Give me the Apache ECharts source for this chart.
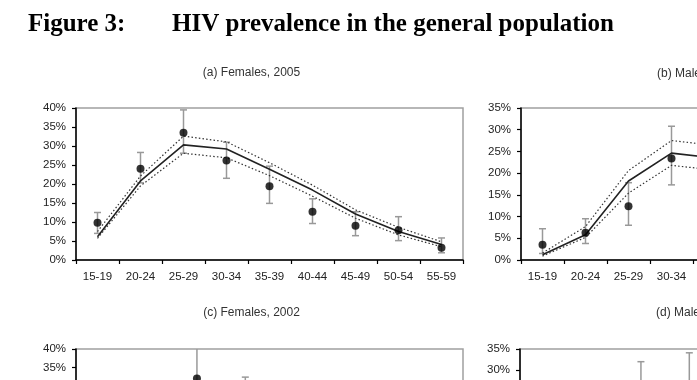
<!DOCTYPE html>
<html>
<head>
<meta charset="utf-8">
<style>
  html, body { margin: 0; padding: 0; background: #fff; overflow: hidden; width: 697px; height: 380px; }
  #chart-container { width: 940px; height: 520px; }
</style>
<script src="https://cdn.jsdelivr.net/npm/echarts@6/dist/echarts.min.js"></script>
</head>
<body>
<div id="chart-container"></div>
<script>
var ages9 = ['15-19', '20-24', '25-29', '30-34', '35-39', '40-44', '45-49', '50-54', '55-59'];
var ages8 = ages9.slice(0, 8);

// (a) Females, 2005
var femObs05   = [9.8, 24.0, 33.5, 26.2, 19.4, 12.7, 9.0, 7.8, 3.2];
var femHi05    = [12.5, 28.3, 39.5, 31.0, 24.7, 16.1, 12.7, 11.4, 5.8];
var femLo05    = [7.0, 20.3, 28.1, 21.5, 14.9, 9.6, 6.4, 5.1, 1.9];
var femFit05   = [6.1, 20.8, 30.3, 29.2, 23.9, 18.4, 12.1, 7.5, 4.1];
var femFitHi05 = [7.5, 22.1, 32.6, 31.1, 25.6, 19.7, 13.2, 8.6, 4.8];
var femFitLo05 = [5.7, 19.5, 28.1, 26.9, 22.2, 16.8, 11.0, 6.6, 3.5];

// (b) Males, 2005
var maleObs05   = [3.5, 6.3, 12.4, 23.4, 22.0, 24.0, 20.0, 16.0, 12.0];
var maleHi05    = [7.2, 9.5, 17.8, 30.8, 28.0, 30.0, 27.0, 23.0, 18.0];
var maleLo05    = [1.5, 3.8, 8.0, 17.3, 16.0, 18.0, 14.0, 10.0, 7.0];
var maleFit05   = [1.2, 5.8, 18.2, 24.6, 23.5, 22.0, 19.5, 16.0, 12.5];
var maleFitHi05 = [1.6, 7.7, 20.6, 27.5, 26.4, 24.8, 22.0, 18.3, 14.5];
var maleFitLo05 = [0.9, 5.2, 15.4, 21.8, 20.7, 19.4, 17.0, 13.8, 10.5];

// (c) Females, 2002
var femObs02   = [8.5, 22.0, 32.0, 26.0, 22.0, 15.0, 11.0, 8.0];
var femHi02    = [11.5, 26.5, 41.0, 32.4, 27.0, 19.5, 15.0, 12.0];
var femLo02    = [6.0, 18.0, 24.0, 20.0, 17.0, 11.0, 7.5, 5.0];
var femFit02   = [6.5, 19.5, 28.5, 28.0, 23.5, 17.5, 12.0, 7.5];
var femFitHi02 = [7.8, 21.0, 30.5, 30.0, 25.5, 19.0, 13.2, 8.5];
var femFitLo02 = [5.5, 18.0, 26.5, 26.0, 21.5, 16.0, 10.8, 6.5];

// (d) Males, 2002
var maleObs02   = [2.5, 7.0, 21.0, 25.0, 24.0, 21.0, 17.0, 13.0];
var maleHi02    = [5.5, 10.5, 32.0, 34.1, 31.0, 28.0, 24.0, 20.0];
var maleLo02    = [1.0, 4.0, 13.0, 17.0, 17.0, 14.0, 11.0, 7.0];
var maleFit02   = [1.0, 6.0, 16.5, 22.5, 23.0, 20.5, 16.5, 12.5];
var maleFitHi02 = [1.5, 7.5, 19.0, 25.5, 26.0, 23.0, 19.0, 14.5];
var maleFitLo02 = [0.7, 4.8, 14.0, 20.0, 20.5, 18.0, 14.0, 10.5];

var panels = [
  { cats: ages9, max: 40, obs: femObs05, hi: femHi05, lo: femLo05, fit: femFit05, fitHi: femFitHi05, fitLo: femFitLo05 },
  { cats: ages9, max: 35, obs: maleObs05, hi: maleHi05, lo: maleLo05, fit: maleFit05, fitHi: maleFitHi05, fitLo: maleFitLo05 },
  { cats: ages8, max: 40, obs: femObs02, hi: femHi02, lo: femLo02, fit: femFit02, fitHi: femFitHi02, fitLo: femFitLo02 },
  { cats: ages8, max: 35, obs: maleObs02, hi: maleHi02, lo: maleLo02, fit: maleFit02, fitHi: maleFitHi02, fitLo: maleFitLo02 }
];

var grids = [
  { left: 76, top: 108, width: 387, height: 152 },
  { left: 521, top: 108, width: 387, height: 152 },
  { left: 76, top: 349, width: 387, height: 152 },
  { left: 520, top: 349, width: 387, height: 152 }
];

var labelFont = { fontFamily: 'Liberation Sans, Arial, sans-serif', fontSize: 11.5, color: '#222' };

function errorBars(params, api) {
  var cs = params.coordSys;
  var hi = api.coord([api.value(0), api.value(1)]);
  var lo = api.coord([api.value(0), api.value(2)]);
  var top = Math.max(hi[1], cs.y);
  var bot = Math.min(lo[1], cs.y + cs.height);
  var x = hi[0];
  var st = { stroke: '#999', lineWidth: 1.5 };
  var kids = [{ type: 'line', shape: { x1: x, y1: top, x2: x, y2: bot }, style: st }];
  if (hi[1] >= cs.y) kids.push({ type: 'line', shape: { x1: x - 3.5, y1: hi[1], x2: x + 3.5, y2: hi[1] }, style: st });
  if (lo[1] <= cs.y + cs.height) kids.push({ type: 'line', shape: { x1: x - 3.5, y1: lo[1], x2: x + 3.5, y2: lo[1] }, style: st });
  return { type: 'group', children: kids };
}

var xAxes = [], yAxes = [], series = [];
panels.forEach(function (p, i) {
  xAxes.push({
    type: 'category', gridIndex: i, data: p.cats, boundaryGap: true,
    axisLine: { lineStyle: { color: '#000', width: 1.5 } },
    axisTick: { show: true, length: 4, interval: 0, lineStyle: { color: '#000', width: 1.2 } },
    axisLabel: Object.assign({ margin: 11, interval: 0 }, labelFont),
    splitLine: { show: false }
  });
  yAxes.push({
    type: 'value', gridIndex: i, min: 0, max: p.max, interval: 5,
    axisLine: { show: true, lineStyle: { color: '#000', width: 1.5 } },
    axisTick: { show: true, length: 4, lineStyle: { color: '#000', width: 1.2 } },
    axisLabel: Object.assign({ margin: 10, formatter: '{value}%' }, labelFont),
    splitLine: { show: false }
  });
  series.push({
    type: 'custom', xAxisIndex: i, yAxisIndex: i, renderItem: errorBars, clip: true, z: 1,
    data: p.cats.map(function (c, k) { return [k, p.hi[k], p.lo[k]]; }),
    encode: { x: 0, y: [1, 2] }
  });
  series.push({
    type: 'line', xAxisIndex: i, yAxisIndex: i, data: p.fitHi, symbol: 'none', z: 2,
    lineStyle: { color: '#333', width: 1.2, type: [1.5, 2.2] }
  });
  series.push({
    type: 'line', xAxisIndex: i, yAxisIndex: i, data: p.fitLo, symbol: 'none', z: 2,
    lineStyle: { color: '#333', width: 1.2, type: [1.5, 2.2] }
  });
  series.push({
    type: 'line', xAxisIndex: i, yAxisIndex: i, data: p.fit, symbol: 'none', z: 3,
    lineStyle: { color: '#222', width: 1.6 }
  });
  series.push({
    type: 'scatter', xAxisIndex: i, yAxisIndex: i, data: p.obs, symbol: 'circle', symbolSize: 8, z: 4,
    itemStyle: { color: '#000' }
  });
});

var panelFont = '12px "Liberation Sans", Arial, sans-serif';
var headFont = 'bold 25px "Liberation Serif", "Times New Roman", serif';

var dom = document.getElementById('chart-container');
var myChart = echarts.init(dom, null, { renderer: 'canvas' });
var option = {
  animation: false,
  backgroundColor: '#fff',
  grid: grids.map(function (g) {
    return Object.assign({ show: true, borderColor: '#a0a0a0', borderWidth: 1.5, containLabel: false }, g);
  }),
  xAxis: xAxes,
  yAxis: yAxes,
  series: series,
  graphic: [
    { type: 'text', x: 28, y: 25, style: { text: 'Figure 3:', font: headFont, fill: '#000', verticalAlign: 'middle' } },
    { type: 'text', x: 172, y: 25, style: { text: 'HIV prevalence in the general population', font: headFont, fill: '#000', verticalAlign: 'middle' } },
    { type: 'text', x: 251.5, y: 73, style: { text: '(a) Females, 2005', font: panelFont, fill: '#333', align: 'center', verticalAlign: 'middle' } },
    { type: 'text', x: 657, y: 74, style: { text: '(b) Males, 2005', font: panelFont, fill: '#333', align: 'left', verticalAlign: 'middle' } },
    { type: 'text', x: 251.5, y: 313, style: { text: '(c) Females, 2002', font: panelFont, fill: '#333', align: 'center', verticalAlign: 'middle' } },
    { type: 'text', x: 656, y: 313, style: { text: '(d) Males, 2002', font: panelFont, fill: '#333', align: 'left', verticalAlign: 'middle' } }
  ]
};

myChart.setOption(option);
window.addEventListener('resize', myChart.resize);
</script>
</body>
</html>
